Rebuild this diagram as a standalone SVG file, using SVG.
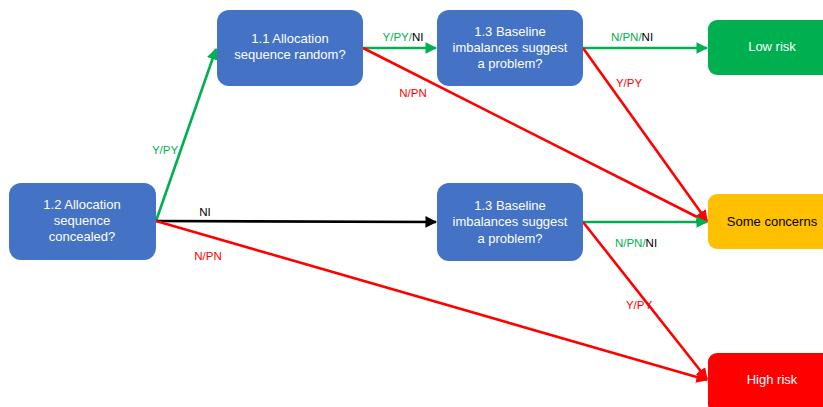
<svg xmlns="http://www.w3.org/2000/svg" width="823" height="407" viewBox="0 0 823 407">
<style>
.q{fill:#4472C4}
.t{font-family:"Liberation Sans",Arial,sans-serif;font-size:13px;fill:#fff;text-anchor:middle}
.lb{font-family:"Liberation Sans",Arial,sans-serif;font-size:11.5px;text-anchor:middle}
.g{fill:#00B050}.r{fill:#FF0000}.k{fill:#000}
.e{fill:none;stroke-width:2.6}
</style>
<defs>
<marker id="ag" viewBox="0 0 10 10" refX="9" refY="5" markerWidth="4.5" markerHeight="4.5" orient="auto" markerUnits="strokeWidth"><path d="M0,0L10,5L0,10z" fill="#00B050"/></marker>
<marker id="ar" viewBox="0 0 10 10" refX="9" refY="5" markerWidth="4.5" markerHeight="4.5" orient="auto" markerUnits="strokeWidth"><path d="M0,0L10,5L0,10z" fill="#FF0000"/></marker>
<marker id="ak" viewBox="0 0 10 10" refX="9" refY="5" markerWidth="4.5" markerHeight="4.5" orient="auto" markerUnits="strokeWidth"><path d="M0,0L10,5L0,10z" fill="#000"/></marker>
</defs>
<rect width="823" height="407" fill="#fff"/>
<g id="connectors">
<line class="e" x1="156" y1="221" x2="216" y2="49" stroke="#00B050" marker-end="url(#ag)"/>
<line class="e" x1="156" y1="221" x2="436" y2="222" stroke="#000" marker-end="url(#ak)"/>
<line class="e" x1="156" y1="221" x2="707" y2="380" stroke="#FF0000" marker-end="url(#ar)"/>
<line class="e" x1="363" y1="48" x2="436" y2="48" stroke="#00B050" marker-end="url(#ag)"/>
<line class="e" x1="363" y1="48" x2="707" y2="222" stroke="#FF0000" marker-end="url(#ar)"/>
<line class="e" x1="583" y1="48" x2="707" y2="48" stroke="#00B050" marker-end="url(#ag)"/>
<line class="e" x1="583" y1="48" x2="707" y2="221" stroke="#FF0000" marker-end="url(#ar)"/>
<line class="e" x1="583" y1="222" x2="707" y2="222" stroke="#00B050" marker-end="url(#ag)"/>
<line class="e" x1="583" y1="222" x2="707" y2="379" stroke="#FF0000" marker-end="url(#ar)"/>
<text class="lb g" x="165" y="154">Y/PY</text>
<text class="lb k" x="205" y="216">NI</text>
<text class="lb r" x="208" y="260">N/PN</text>
<text class="lb" x="403" y="41"><tspan class="g">Y/PY/</tspan><tspan class="k">NI</tspan></text>
<text class="lb r" x="413" y="97">N/PN</text>
<text class="lb" x="632" y="41"><tspan class="g">N/PN/</tspan><tspan class="k">NI</tspan></text>
<text class="lb r" x="629" y="87">Y/PY</text>
<text class="lb" x="636" y="247"><tspan class="g">N/PN/</tspan><tspan class="k">NI</tspan></text>
<text class="lb r" x="639" y="309">Y/PY</text>
</g>
<g id="n12"><rect class="q" x="9" y="183" width="147" height="77" rx="12"/>
<text class="t" x="82" y="209">1.2 Allocation</text><text class="t" x="82" y="225">sequence</text><text class="t" x="82" y="241">concealed?</text></g>
<g id="n11"><rect class="q" x="217" y="10" width="146" height="76" rx="12"/>
<text class="t" x="290" y="43">1.1 Allocation</text><text class="t" x="290" y="59">sequence random?</text></g>
<g id="n13a"><rect class="q" x="437" y="10" width="146" height="76" rx="12"/>
<text class="t" x="510" y="36">1.3 Baseline</text><text class="t" x="510" y="52">imbalances suggest</text><text class="t" x="510" y="68">a problem?</text></g>
<g id="n13b"><rect class="q" x="437" y="183" width="146" height="78" rx="12"/>
<text class="t" x="510" y="210">1.3 Baseline</text><text class="t" x="510" y="226">imbalances suggest</text><text class="t" x="510" y="243">a problem?</text></g>
<g id="low"><rect x="708" y="20" width="130" height="55" rx="9" fill="#00B050"/>
<text class="t" x="772" y="51">Low risk</text></g>
<g id="some"><rect x="708" y="194" width="130" height="55" rx="9" fill="#FFC000"/>
<text class="t" x="772" y="226" style="fill:#000">Some concerns</text></g>
<g id="high"><rect x="708" y="353" width="130" height="60" rx="9" fill="#FF0000"/>
<text class="t" x="772" y="384">High risk</text></g>
</svg>
